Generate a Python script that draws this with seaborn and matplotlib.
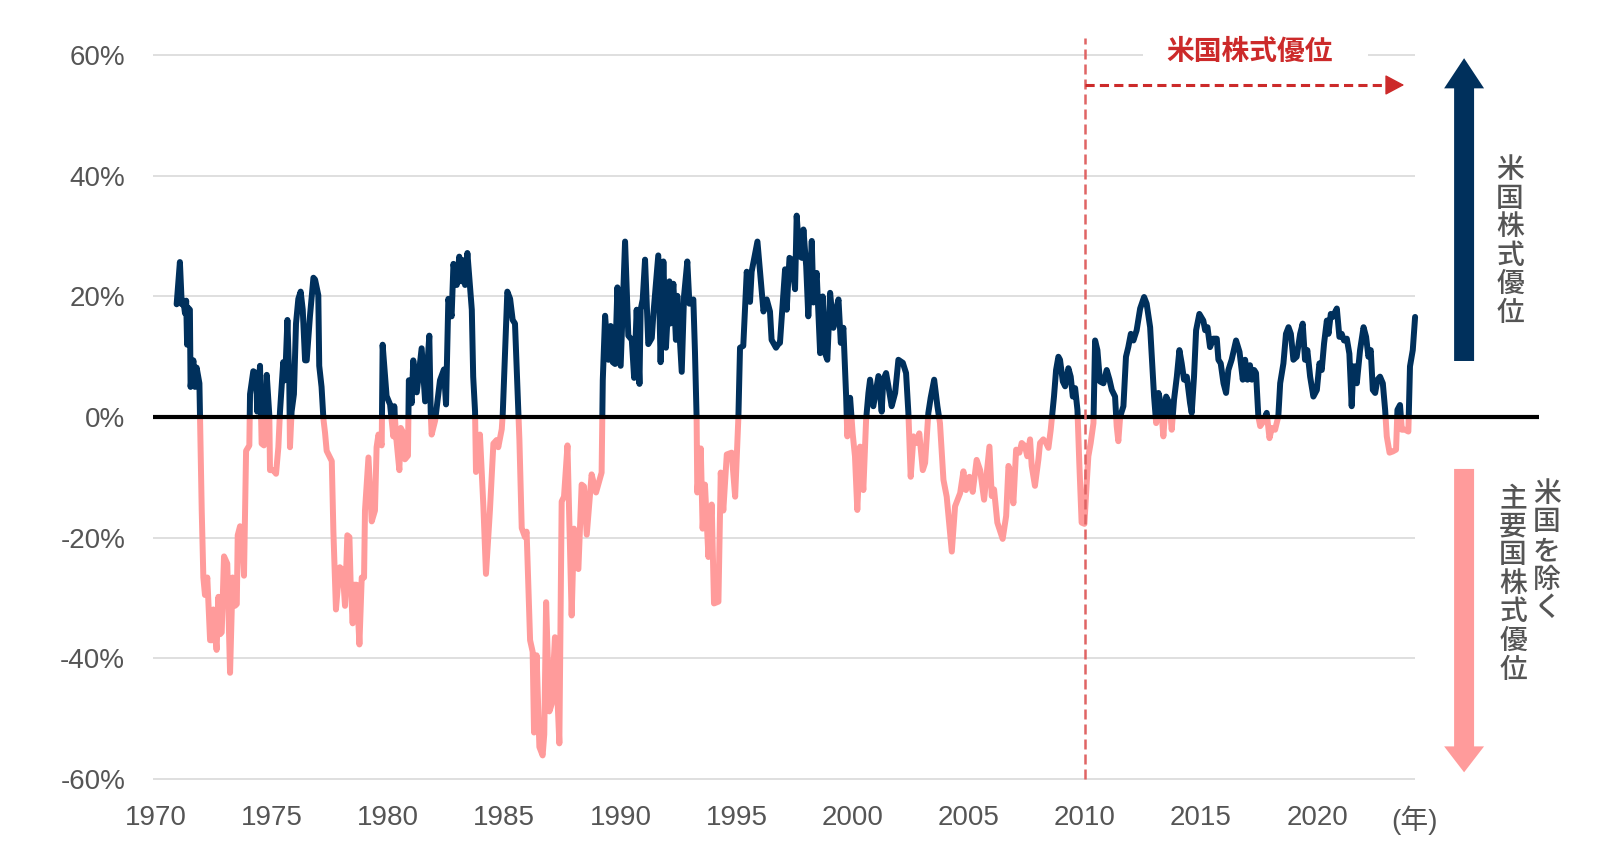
import matplotlib
matplotlib.use("Agg")
import matplotlib.pyplot as plt
import seaborn as sns
import pandas as pd
import numpy as np
from matplotlib.patches import Rectangle, FancyArrow

# relative return of US stocks vs. major non-US stocks (%)
years = [
    1970.89, 1971.03, 1971.11, 1971.18, 1971.25, 1971.30, 1971.34, 1971.39, 1971.46, 1971.49,
    1971.61, 1971.68, 1971.75, 1971.87, 1971.97, 1972.04, 1972.11, 1972.21, 1972.33, 1972.44,
    1972.47, 1972.61, 1972.69, 1972.76, 1972.83, 1972.93, 1973.07, 1973.19, 1973.30, 1973.40,
    1973.48, 1973.52, 1973.62, 1973.69, 1973.79, 1973.88, 1974.02, 1974.05, 1974.19, 1974.31,
    1974.36, 1974.48, 1974.55, 1974.65, 1974.77, 1974.88, 1974.91, 1975.05, 1975.17, 1975.27,
    1975.34, 1975.48, 1975.56, 1975.66, 1975.74, 1975.77, 1975.84, 1975.94, 1976.03, 1976.13,
    1976.23, 1976.32, 1976.42, 1976.49, 1976.63, 1976.78, 1976.85, 1976.99, 1977.03, 1977.13,
    1977.21, 1977.28, 1977.35, 1977.49, 1977.57, 1977.64, 1977.75, 1977.85, 1977.92, 1978.04,
    1978.14, 1978.24, 1978.33, 1978.38, 1978.47, 1978.53, 1978.64, 1978.76,
    1978.86, 1978.96, 1979.00, 1979.15, 1979.29, 1979.43, 1979.50, 1979.58, 1979.72, 1979.76,
    1979.93, 1980.08, 1980.15, 1980.22, 1980.26, 1980.34, 1980.48, 1980.54, 1980.65, 1980.72,
    1980.85, 1980.89, 1981.01, 1981.08, 1981.23, 1981.44, 1981.59, 1981.77, 1981.83, 1981.87,
    1982.02, 1982.23, 1982.40, 1982.49, 1982.59, 1982.73, 1982.81, 1982.95, 1983.06, 1983.16,
    1983.24, 1983.31, 1983.41, 1983.60, 1983.66, 1983.74, 1983.78, 1983.95, 1984.10, 1984.21,
    1984.38, 1984.53, 1984.67, 1984.74, 1984.89, 1984.93, 1985.03, 1985.13, 1985.25, 1985.36,
    1985.46, 1985.61, 1985.65, 1985.75, 1985.89, 1985.96, 1986.11, 1986.22, 1986.28, 1986.39,
    1986.51, 1986.65, 1986.72, 1986.80, 1986.94, 1987.04, 1987.18, 1987.37, 1987.47, 1987.57,
    1987.72,
    1987.90, 1988.00, 1988.19, 1988.33, 1988.43, 1988.55, 1988.76, 1988.95, 1989.12, 1989.19,
    1989.24, 1989.34, 1989.48, 1989.58, 1989.67, 1989.77, 1989.87, 1990.01, 1990.20, 1990.34,
    1990.49, 1990.59, 1990.70, 1990.82, 1990.87, 1990.96, 1991.06, 1991.20, 1991.35, 1991.42,
    1991.63, 1991.73, 1991.85, 1991.96, 1992.11, 1992.14, 1992.28, 1992.39, 1992.45, 1992.64,
    1992.74, 1992.88, 1992.97, 1993.14, 1993.21, 1993.28, 1993.31, 1993.46, 1993.54, 1993.64,
    1993.79, 1993.93, 1994.03, 1994.22, 1994.32, 1994.43, 1994.58, 1994.79, 1994.94, 1995.08,
    1995.15, 1995.29, 1995.44, 1995.58, 1995.65, 1995.90, 1996.01, 1996.16, 1996.30, 1996.44,
    1996.51, 1996.70, 1996.80,
    1996.87, 1997.09, 1997.16, 1997.28, 1997.38, 1997.52, 1997.59, 1997.71, 1997.81, 1997.88,
    1998.00, 1998.09, 1998.24, 1998.31, 1998.45, 1998.60, 1998.71, 1998.81, 1998.91, 1999.03,
    1999.17, 1999.29, 1999.39, 1999.49, 1999.60, 1999.72, 1999.77, 1999.89, 2000.00, 2000.10,
    2000.20, 2000.32, 2000.46, 2000.58, 2000.68, 2000.75, 2000.89, 2001.01, 2001.11, 2001.25,
    2001.32, 2001.44, 2001.54, 2001.68, 2001.83, 2001.97, 2002.16, 2002.30, 2002.40, 2002.50,
    2002.62, 2002.76, 2002.87, 2003.02, 2003.12, 2003.26, 2003.36, 2003.51, 2003.65, 2003.76,
    2003.91, 2004.05, 2004.27, 2004.41, 2004.63, 2004.77, 2004.88, 2005.03, 2005.17, 2005.34,
    2005.49, 2005.66, 2005.89,
    2005.99, 2006.09, 2006.23, 2006.46, 2006.61, 2006.71, 2006.81, 2006.92, 2007.04, 2007.18,
    2007.28, 2007.42, 2007.52, 2007.64, 2007.71, 2007.85, 2008.00, 2008.07, 2008.21, 2008.33,
    2008.43, 2008.53, 2008.67, 2008.76, 2008.86, 2008.93, 2009.05, 2009.15, 2009.29, 2009.39,
    2009.48, 2009.58, 2009.68, 2009.76, 2009.86, 2009.98, 2010.08, 2010.15, 2010.25, 2010.37,
    2010.44, 2010.54, 2010.65, 2010.80, 2010.94, 2011.06, 2011.16, 2011.30, 2011.37, 2011.44,
    2011.52, 2011.66, 2011.77, 2011.87, 2011.98, 2012.09, 2012.23, 2012.38, 2012.55, 2012.66,
    2012.81, 2012.98, 2013.07, 2013.17, 2013.27, 2013.38, 2013.50, 2013.64, 2013.74, 2013.84,
    2013.96, 2014.07, 2014.17, 2014.27, 2014.39, 2014.53, 2014.60, 2014.70, 2014.79, 2014.93,
    2015.10, 2015.18, 2015.28, 2015.39, 2015.53, 2015.68, 2015.75, 2015.85, 2015.97, 2016.08,
    2016.18, 2016.32, 2016.51, 2016.66, 2016.80, 2016.90, 2017.00, 2017.11, 2017.19, 2017.29,
    2017.37, 2017.47, 2017.55, 2017.69, 2017.83, 2017.95, 2018.05, 2018.19, 2018.33, 2018.41,
    2018.55, 2018.66, 2018.77, 2018.87, 2018.98, 2019.12, 2019.27, 2019.38, 2019.48, 2019.58,
    2019.70, 2019.84, 2019.99, 2020.10, 2020.20, 2020.30, 2020.42, 2020.49, 2020.59, 2020.67,
    2020.85, 2020.96, 2021.06, 2021.16, 2021.28, 2021.39, 2021.49, 2021.56, 2021.64, 2021.71,
    2021.85, 2022.00, 2022.11, 2022.21, 2022.31, 2022.40, 2022.50, 2022.60, 2022.71, 2022.83,
    2022.93, 2023.00, 2023.12, 2023.26, 2023.40, 2023.46, 2023.57, 2023.65, 2023.79, 2023.93,
    2024.00, 2024.12, 2024.22,
]
values = [
    18.7, 25.7, 18.7, 19.3, 17.2, 19.3, 12.0, 18.1, 17.8, 5.0,
    9.4, 5.0, 8.2, 5.6, -15.5, -26.6, -29.5, -26.6, -37.0, -37.0,
    -31.9, -38.6, -29.8, -36.0, -35.7, -23.1, -24.3, -42.4, -26.6, -31.3,
    -31.0, -19.6, -18.1, -18.4, -26.3, -5.6, -4.7, 3.8, 7.6, 7.3,
    0.9, 8.5, -4.4, -4.7, 7.0, 0.3, -8.8, -8.8, -9.4, -5.0,
    0.9, 9.1, 6.1, 16.1, 6.1, -5.0, 0.9, 3.8, 15.5, 19.6,
    20.8, 17.8, 9.4, 9.4, 16.7, 23.1, 22.8, 20.2, 8.5, 5.0,
    -0.3, -2.6, -5.6, -6.7, -7.3, -19.0, -31.9, -27.2, -24.9, -25.4,
    -31.3, -19.6, -19.9, -27.2, -34.2, -27.8, -27.8, -37.7,
    -26.6, -26.6, -15.5, -6.7, -17.3, -15.5, -5.0, -2.9, -4.7, 12.0,
    3.5, 2.1, -0.6, -3.2, 1.8, -3.2, -8.8, -1.8, -2.6, -7.0,
    -6.4, 6.1, 2.3, 9.4, 4.1, 11.4, 2.6, 13.5, 0.9, -2.9,
    -0.6, 6.1, 7.9, 2.1, 19.6, 16.7, 25.4, 21.9, 26.6, 22.5,
    26.0, 21.9, 27.2, 17.8, 6.7, 0.9, -9.1, -2.9, -14.9, -26.0,
    -15.5, -4.4, -3.8, -5.0, -2.0, 0.3, 10.8, 20.8, 19.6, 16.1,
    15.5, 0.0, -3.8, -18.4, -19.9, -19.0, -37.0, -38.9, -52.3, -39.5,
    -54.7, -56.1, -52.6, -30.7, -48.8, -47.6, -36.5, -54.1, -14.0, -13.2,
    -4.7,
    -32.9, -18.5, -25.2, -11.2, -11.5, -19.5, -9.5, -12.5, -10.2, -9.2,
    6.1, 16.8, 9.5, 15.1, 9.1, 8.8, 21.5, 8.5, 29.1, 13.5,
    12.8, 6.5, 17.8, 5.5, 17.8, 19.5, 26.1, 12.1, 13.1, 17.1,
    26.8, 9.1, 25.8, 11.5, 22.5, 15.5, 22.1, 12.8, 20.1, 7.5,
    20.1, 25.8, 18.8, 19.5, 10.8, 0.0, -12.5, -5.2, -18.5, -11.2,
    -23.2, -14.5, -30.9, -30.6, -9.2, -15.5, -6.2, -5.9, -13.2, 0.0,
    11.5, 11.8, 24.1, 19.1, 24.1, 29.1, 24.1, 17.5, 19.5, 17.5,
    12.8, 11.5, 12.1,
    12.3, 24.5, 17.8, 26.4, 26.1, 21.2, 33.4, 26.7, 26.4, 31.1,
    25.0, 16.7, 29.2, 19.0, 23.9, 10.6, 20.0, 10.6, 9.5, 20.6,
    14.8, 17.8, 19.5, 12.3, 14.8, 3.4, -3.2, 3.2, -2.7, -6.5,
    -15.4, -4.9, -12.1, -0.4, 4.0, 6.2, 1.8, 4.5, 6.8, 0.9,
    6.2, 7.3, 5.1, 1.8, 4.0, 9.5, 9.0, 7.3, 0.7, -9.9,
    -3.2, -4.3, -2.7, -8.8, -7.6, 0.7, 3.2, 6.2, 1.8, -1.0,
    -10.4, -13.2, -22.3, -14.8, -12.6, -9.0, -12.1, -9.9, -12.4, -7.1,
    -8.8, -13.7, -4.9,
    -13.1, -12.0, -17.5, -20.2, -16.4, -8.1, -9.2, -14.3, -5.4, -5.9,
    -4.3, -4.8, -6.5, -3.7, -8.1, -11.4, -7.0, -4.3, -3.7, -4.3,
    -5.1, -2.1, 3.4, 7.8, 10.0, 9.5, 5.9, 5.1, 8.1, 6.7,
    3.4, 4.8, 1.2, -7.6, -17.5, -17.7, -10.9, -6.5, -4.3, -1.0,
    12.7, 11.1, 5.9, 5.6, 7.8, 6.2, 4.5, 3.4, -1.5, -4.0,
    0.1, 1.8, 10.0, 11.6, 13.8, 12.7, 14.4, 18.0, 19.9, 18.8,
    14.9, 3.4, -1.0, 4.0, 2.3, -3.2, 3.4, 2.3, -2.1, 2.9,
    6.7, 11.1, 8.9, 6.2, 6.7, 2.3, 0.7, 6.7, 14.4, 17.1,
    16.0, 14.4, 14.9, 11.6, 13.0, 13.0, 9.5, 8.9, 5.6, 4.0,
    7.8, 9.5, 12.7, 10.8, 6.2, 9.5, 6.2, 8.6, 6.2, 7.8,
    7.3, 0.1, -1.5, -0.7, 0.7, -3.5, -1.8, -2.1, 0.1, 5.6,
    8.9, 13.8, 14.9, 13.8, 9.5, 10.0, 13.8, 15.5, 9.5, 11.1,
    6.7, 3.4, 4.5, 8.9, 7.8, 12.2, 16.0, 13.8, 17.1, 16.6,
    18.0, 13.3, 13.8, 12.7, 13.0, 10.5, 1.8, 8.4, 8.4, 5.6,
    11.1, 14.9, 13.3, 10.0, 11.1, 4.5, 4.0, 6.2, 6.7, 5.6,
    1.2, -3.2, -5.9, -5.7, -5.4, 1.2, 2.0, -2.1, -2.1, -2.4,
    8.4, 11.1, 16.6,
]

y_ticks = [-60, -40, -20, 0, 20, 40, 60]
x_ticks = [1970, 1975, 1980, 1985, 1990, 1995, 2000, 2005, 2010, 2015, 2020]
x_labels = [str(y) for y in x_ticks]
year_unit = '(年)'
split_year = 2010

top_label = '米国株式優位'
us_label = '米国株式優位'
ex_us_label_1 = '米国を除く'
ex_us_label_2 = '主要国株式優位'

NAVY = '#00305C'
PINK = '#FF9B9B'
RED = '#CC2A2A'
RED_LIGHT = '#E06464'
GRID = '#D9D9D9'
GRAY = '#555555'

sns.set_theme(style="white")
plt.rcParams['font.family'] = ['Liberation Sans', 'Noto Sans CJK JP']

fig = plt.figure(figsize=(16, 8.52), dpi=100)
ax = fig.add_axes([0.0956, 0.0645, 0.8794, 0.9132])
x0, x1 = 1969.87, 2030.46
ax.set_xlim(x0, x1)
ax.set_ylim(-63, 66)

df = pd.DataFrame({'year': years, 'value': values})

# gridlines stop short of the right-hand arrows; 60% line has a gap for the label
for v in [-60, -40, -20, 20, 40]:
    ax.hlines(v, x0, 2024.22, color=GRID, lw=1.2, zorder=1)
ax.hlines(60, x0, 2012.5, color=GRID, lw=1.2, zorder=1)
ax.hlines(60, 2022.2, 2024.22, color=GRID, lw=1.2, zorder=1)

# same line twice: navy clipped above zero, pink below
sns.lineplot(data=df, x='year', y='value', color=NAVY, lw=4.3, ax=ax,
             estimator=None, sort=False, zorder=2)
ax.lines[-1].set_clip_path(Rectangle((1960, 0), 80, 100, transform=ax.transData))
sns.lineplot(data=df, x='year', y='value', color=PINK, lw=4.3, ax=ax,
             estimator=None, sort=False, zorder=2)
ax.lines[-1].set_clip_path(Rectangle((1960, -100), 80, 100, transform=ax.transData))

ax.hlines(0, x0, 2029.56, color='black', lw=3, zorder=3)

# 2010 marker and the "US stocks lead" arrow
ax.vlines(split_year, -60, 62.9, colors=RED_LIGHT, lw=1.8,
          linestyles=(0, (4, 2)), zorder=4)
ax.hlines(55.06, split_year, 2023.2, colors=RED, lw=2.2,
          linestyles=(0, (3, 1.7)), zorder=4)
ax.annotate('', xy=(2023.75, 55.06), xytext=(2023.0, 55.06),
            arrowprops=dict(arrowstyle='-|>,head_length=0.6,head_width=0.32',
                            color=RED, lw=1, mutation_scale=20,
                            shrinkA=0, shrinkB=0), zorder=5)
ax.text(2017.1, 60.6, top_label, ha='center', va='center', color=RED,
        fontsize=20, fontweight='bold', family=['Noto Sans CJK JP'])

# big arrows on the right
ax.add_patch(FancyArrow(2026.33, 9.3, 0, 50.2, width=0.86, head_width=1.72,
                        head_length=5.0, length_includes_head=True,
                        color=NAVY, lw=0, clip_on=False))
ax.add_patch(FancyArrow(2026.33, -8.6, 0, -50.3, width=0.86, head_width=1.72,
                        head_length=4.3, length_includes_head=True,
                        color=PINK, lw=0, clip_on=False))

# vertical labels, one character per row
pitch = 4.74
def vertical_text(x, y_first, label):
    for i, ch in enumerate(label):
        ax.text(x, y_first - i * pitch - 1.75, ch, ha='center', va='baseline',
                color=GRAY, fontsize=20, fontweight='medium',
                family=['Noto Sans CJK JP'])

vertical_text(2028.31, 41.4, us_label)
vertical_text(2029.9, -12.3, ex_us_label_1)
vertical_text(2028.44, -13.0, ex_us_label_2)

ax.set_yticks(y_ticks)
ax.set_yticklabels([f'{v}%' for v in y_ticks])
ax.set_xticks(x_ticks + [2024.2])
ax.set_xticklabels(x_labels + [year_unit])
ax.tick_params(axis='y', pad=20, length=0, labelsize=20, labelcolor=GRAY)
ax.tick_params(axis='x', pad=6, length=0, labelsize=20, labelcolor=GRAY)
ax.set_xlabel('')
ax.set_ylabel('')
for s in ax.spines.values():
    s.set_visible(False)

fig.savefig('out.png', dpi=100)
